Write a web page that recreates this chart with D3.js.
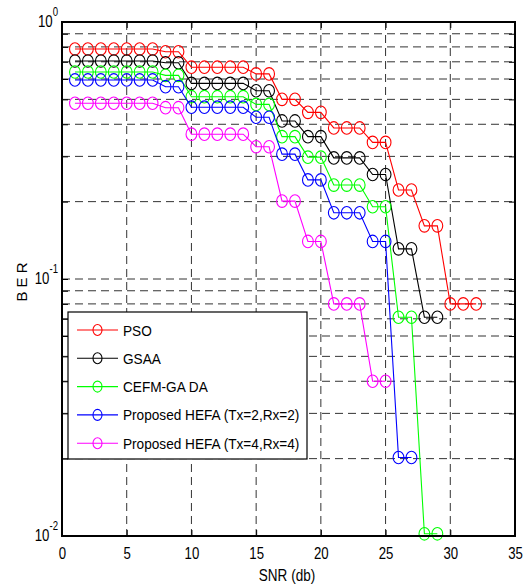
<!DOCTYPE html>
<html lang="en">
<head>
  <meta charset="UTF-8">
  <title>BER vs SNR</title>
  <script src="https://cdn.jsdelivr.net/npm/d3@7"></script>
  <style>
    body { margin: 0; background: #fff; }
    svg { display: block; font-family: "Liberation Sans", Arial, sans-serif; }
  </style>
</head>
<body>
<svg id="chart" width="525" height="587"></svg>
<script>
  // SNR values (db), shared by all curves
  var snr = [1, 2, 3, 4, 5, 6, 7, 8, 9, 10, 11, 12, 13, 14, 15, 16,
             17, 18, 19, 20, 21, 22, 23, 24, 25, 26, 27, 28, 29, 30, 31, 32];

  // BER
  var berPSO = [0.785, 0.785, 0.785, 0.785, 0.785, 0.785, 0.785, 0.766, 0.766,
                0.667, 0.667, 0.667, 0.667, 0.667, 0.628, 0.628, 0.50, 0.50,
                0.445, 0.445, 0.387, 0.387, 0.387, 0.34, 0.34, 0.222, 0.222,
                0.161, 0.161, 0.080, 0.080, 0.080];
  var berGSAA = [0.705, 0.705, 0.705, 0.705, 0.705, 0.705, 0.705, 0.694, 0.694,
                 0.577, 0.577, 0.577, 0.577, 0.577, 0.54, 0.54, 0.412, 0.412,
                 0.358, 0.358, 0.296, 0.296, 0.296, 0.255, 0.255, 0.131, 0.131,
                 0.071, 0.071];
  var berCEFM = [0.639, 0.639, 0.639, 0.639, 0.639, 0.639, 0.639, 0.62, 0.62,
                 0.512, 0.512, 0.512, 0.512, 0.512, 0.478, 0.478, 0.358, 0.358,
                 0.298, 0.298, 0.232, 0.232, 0.232, 0.191, 0.191, 0.071, 0.071,
                 0.0102, 0.0102];
  var berHEFA2 = [0.595, 0.595, 0.595, 0.595, 0.595, 0.595, 0.595, 0.56, 0.56,
                  0.466, 0.466, 0.466, 0.466, 0.466, 0.426, 0.426, 0.306, 0.306,
                  0.243, 0.243, 0.181, 0.181, 0.181, 0.140, 0.140, 0.0202, 0.0202];
  var berHEFA4 = [0.483, 0.483, 0.483, 0.483, 0.483, 0.483, 0.483, 0.464, 0.464,
                  0.366, 0.366, 0.366, 0.366, 0.366, 0.327, 0.327, 0.201, 0.201,
                  0.140, 0.140, 0.080, 0.080, 0.080, 0.040, 0.040];

  var seriesNames = ["PSO", "GSAA", "CEFM-GA DA", "Proposed HEFA (Tx=2,Rx=2)", "Proposed HEFA (Tx=4,Rx=4)"];
  var seriesColors = ["#ff0000", "#000000", "#00ff00", "#0000ff", "#ff00ff"];
  var seriesBer = [berPSO, berGSAA, berCEFM, berHEFA2, berHEFA4];

  var xTicks = [0, 5, 10, 15, 20, 25, 30, 35];
  var yMajor = [1, 0.1, 0.01];
  var yExp = ["0", "-1", "-2"];

  var plotLeft = 62, plotRight = 515, plotTop = 22, plotBottom = 536;
  var svg = d3.select("#chart");

  var x = d3.scaleLinear().domain([0, 35]).range([plotLeft, plotRight]);
  var y = d3.scaleLog().domain([0.01, 1]).range([plotBottom, plotTop]);

  // grid
  var grid = svg.append("g")
    .attr("stroke", "#333")
    .attr("stroke-width", 1)
    .attr("stroke-dasharray", "8,5");
  grid.selectAll(".hg")
    .data(y.ticks().filter(function(d) { return d > 0.0101 && d < 0.99; }))
    .enter().append("line")
    .attr("x1", plotLeft).attr("x2", plotRight)
    .attr("y1", function(d) { return y(d); })
    .attr("y2", function(d) { return y(d); });
  grid.selectAll(".vg")
    .data(xTicks.slice(1, -1))
    .enter().append("line")
    .attr("y1", plotTop).attr("y2", plotBottom)
    .attr("x1", function(d) { return x(d); })
    .attr("x2", function(d) { return x(d); });

  // axes with inward ticks on all four sides
  function styleAxis(g) {
    g.select(".domain").remove();
    g.selectAll(".tick line").attr("stroke", "#000").attr("stroke-width", 1);
  }
  svg.append("g")
    .attr("transform", "translate(0," + plotBottom + ")")
    .call(d3.axisBottom(x).tickValues(xTicks).tickSize(-6).tickPadding(11))
    .call(styleAxis)
    .call(function(g) {
      g.selectAll("text")
        .attr("font-size", 16.5)
        .attr("fill", "#000")
        .attr("font-family", "Liberation Sans, Arial, sans-serif")
        .attr("transform", "scale(0.8,1)");
    });
  svg.append("g")
    .attr("transform", "translate(0," + plotTop + ")")
    .call(d3.axisTop(x).tickValues(xTicks).tickSize(-6).tickFormat(""))
    .call(styleAxis);
  svg.append("g")
    .attr("transform", "translate(" + plotLeft + ",0)")
    .call(d3.axisLeft(y).tickValues(y.ticks()).tickSize(-6).tickFormat(""))
    .call(styleAxis);
  svg.append("g")
    .attr("transform", "translate(" + plotRight + ",0)")
    .call(d3.axisRight(y).tickValues(y.ticks()).tickSize(-6).tickFormat(""))
    .call(styleAxis);

  // y tick labels with exponents
  yMajor.forEach(function(v, i) {
    var t = svg.append("g")
      .attr("transform", "translate(" + (plotLeft - 4) + "," + (y(v) + 5) + ") scale(0.8,1)")
      .append("text")
      .attr("text-anchor", "end")
      .attr("font-size", 16.5)
      .text("10");
    t.append("tspan")
      .attr("font-size", 12)
      .attr("dy", -11)
      .text(yExp[i]);
  });

  // curves
  seriesBer.forEach(function(ber, i) {
    var pts = ber.map(function(b, j) { return [snr[j], b]; });
    var g = svg.append("g");
    g.append("path")
      .attr("d", d3.line().x(function(d) { return x(d[0]); }).y(function(d) { return y(d[1]); })(pts))
      .attr("fill", "none")
      .attr("stroke", seriesColors[i])
      .attr("stroke-width", 1.1);
    g.selectAll("ellipse")
      .data(pts)
      .enter().append("ellipse")
      .attr("cx", function(d) { return x(d[0]); })
      .attr("cy", function(d) { return y(d[1]); })
      .attr("rx", 5.4)
      .attr("ry", 6.3)
      .attr("fill", "none")
      .attr("stroke", seriesColors[i])
      .attr("stroke-width", 1.1);
  });

  // box
  svg.append("rect")
    .attr("x", plotLeft).attr("y", plotTop)
    .attr("width", plotRight - plotLeft).attr("height", plotBottom - plotTop)
    .attr("fill", "none")
    .attr("stroke", "#000")
    .attr("stroke-width", 2);

  // axis labels
  svg.append("g")
    .attr("transform", "translate(287,581) scale(0.82,1)")
    .append("text")
    .attr("text-anchor", "middle")
    .attr("font-size", 16.5)
    .text("SNR (db)");
  svg.append("text")
    .attr("transform", "translate(27,282) rotate(-90)")
    .attr("text-anchor", "middle")
    .attr("font-size", 15)
    .text("B E R");

  // legend
  var legend = svg.append("g");
  legend.append("rect")
    .attr("x", 68).attr("y", 312)
    .attr("width", 239).attr("height", 147)
    .attr("fill", "#fff")
    .attr("stroke", "#000")
    .attr("stroke-width", 1.2);
  seriesNames.forEach(function(name, i) {
    var ly = 330 + i * 28.3;
    legend.append("line")
      .attr("x1", 77).attr("x2", 118)
      .attr("y1", ly).attr("y2", ly)
      .attr("stroke", seriesColors[i])
      .attr("stroke-width", 1.1);
    legend.append("ellipse")
      .attr("cx", 97.5).attr("cy", ly)
      .attr("rx", 4.5).attr("ry", 5.5)
      .attr("fill", "none")
      .attr("stroke", seriesColors[i])
      .attr("stroke-width", 1.1);
    legend.append("g")
      .attr("transform", "translate(123," + (ly + 5.5) + ") scale(0.88,1)")
      .append("text")
      .attr("font-size", 15.5)
      .text(name);
  });
</script>
</body>
</html>
